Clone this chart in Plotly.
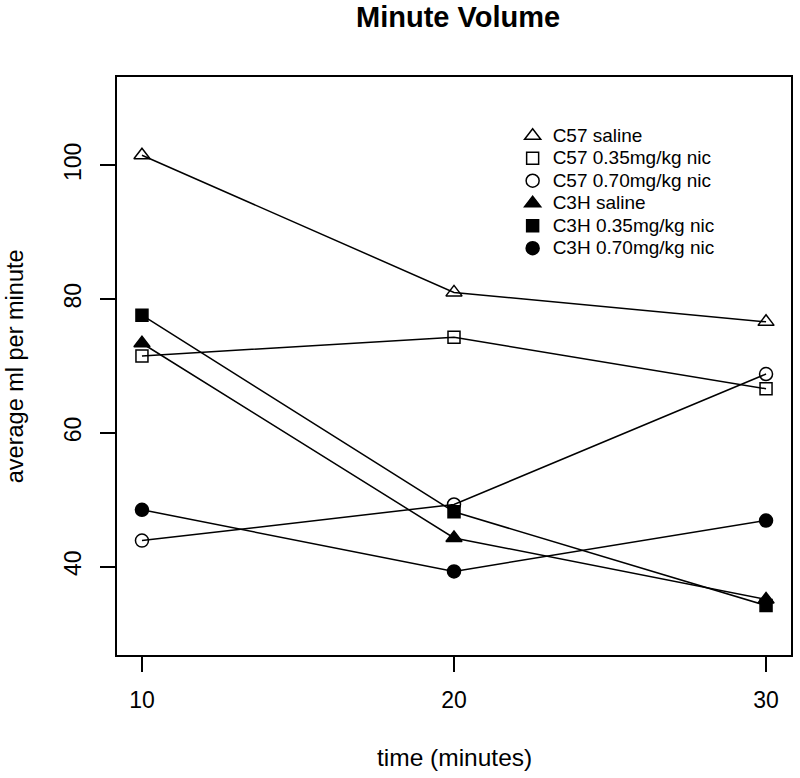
import plotly.graph_objects as go

time_min = [10, 20, 30]
series_names = ["C57 saline", "C57 0.35mg/kg nic", "C57 0.70mg/kg nic",
                "C3H saline", "C3H 0.35mg/kg nic", "C3H 0.70mg/kg nic"]
c57_saline = [101.5, 81.0, 76.6]
c57_035 = [71.5, 74.3, 66.6]
c57_070 = [43.9, 49.3, 68.8]
c3h_saline = [73.4, 44.3, 35.1]
c3h_035 = [77.6, 48.2, 34.2]
c3h_070 = [48.5, 39.3, 46.9]
y_ticks = [40, 60, 80, 100]
x_ticks = [10, 20, 30]

series_values = [c57_saline, c57_035, c57_070, c3h_saline, c3h_035, c3h_070]
symbols = ["triangle-up-open", "square-open", "circle-open",
           "triangle-up", "square", "circle"]
sizes = [14, 12, 13, 14, 12, 13]

FONT = "Liberation Sans, Arial, Helvetica, sans-serif"

fig = go.Figure()
for name, vals, sym, sz in zip(series_names, series_values, symbols, sizes):
    fig.add_trace(go.Scatter(
        x=time_min, y=vals, mode="lines+markers", name=name, showlegend=False,
        line=dict(color="black", width=1.5),
        marker=dict(symbol=sym, size=sz, color="black", line=dict(color="black", width=1.5)),
    ))
# legend-only entries (markers without lines, like R's legend with pch)
for name, sym, sz in zip(series_names, symbols, sizes):
    fig.add_trace(go.Scatter(
        x=[None], y=[None], mode="markers",
        name='<span style="font-size:19px">' + name + '</span>', showlegend=True,
        marker=dict(symbol=sym, size=sz, color="black", line=dict(color="black", width=1.5)),
    ))

fig.update_layout(
    width=800, height=778,
    margin=dict(l=117, r=7, t=77, b=123),
    paper_bgcolor="white", plot_bgcolor="white",
    font=dict(family=FONT, size=23, color="black"),
    showlegend=True,
    legend=dict(x=0.587, y=0.9265, xanchor="left", yanchor="top",
                font=dict(size=15, family=FONT), bgcolor="rgba(0,0,0,0)",
                borderwidth=0, tracegroupgap=0, itemsizing="trace"),
    xaxis=dict(range=[9.2, 30.8], tickvals=x_ticks, ticktext=[str(v) for v in x_ticks],
               showgrid=False, zeroline=False, showline=True, mirror=True,
               linecolor="black", linewidth=2, ticks="outside", ticklen=15,
               tickwidth=1.5, tickcolor="black", ticklabelstandoff=8,
               tickfont=dict(size=23)),
    yaxis=dict(range=[26.8, 113.2], tickvals=y_ticks, ticktext=[str(v) for v in y_ticks],
               showgrid=False, zeroline=False, showline=True, mirror=True,
               linecolor="black", linewidth=2, ticks="outside", ticklen=15,
               tickwidth=1.5, tickcolor="black", tickangle=-90, ticklabelstandoff=10,
               tickfont=dict(size=23)),
    annotations=[
        dict(text="<b>Minute Volume</b>", xref="paper", yref="paper",
             x=0.506, y=1.1038, xanchor="center", yanchor="middle",
             showarrow=False, font=dict(size=29, family=FONT)),
        dict(text="time (minutes)", xref="paper", yref="paper",
             x=0.5, y=-0.178, xanchor="center", yanchor="middle",
             showarrow=False, font=dict(size=24.5, family=FONT)),
        dict(text="average ml per minute", xref="paper", yref="paper",
             x=-0.151, y=0.5, xanchor="center", yanchor="middle", textangle=-90,
             showarrow=False, font=dict(size=23.5, family=FONT)),
    ],
)

fig.write_html("out.html", config={"displayModeBar": False},
               post_script="document.body.style.margin='0px';document.body.style.overflow='hidden';")
